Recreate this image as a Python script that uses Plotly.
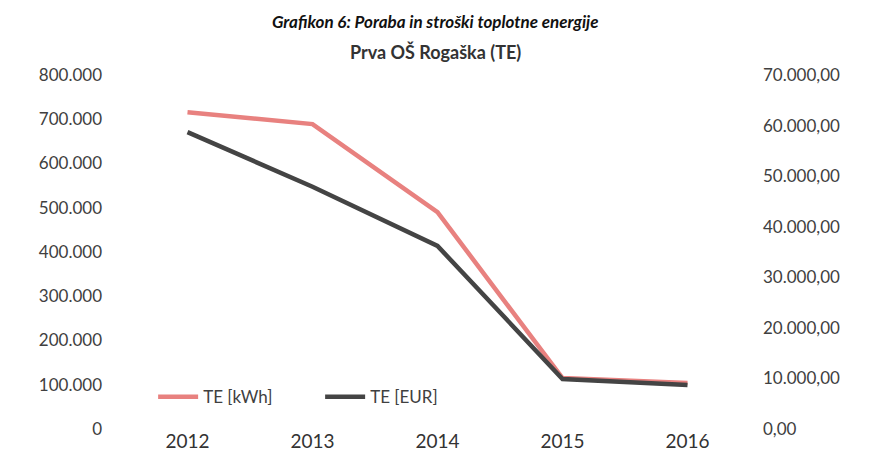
import plotly.graph_objects as go

years = ["2012", "2013", "2014", "2015", "2016"]
te_kwh = [716000, 689000, 490000, 115000, 104000]
te_eur = [58700, 47900, 36200, 9900, 8700]

FONT = "Lato"
fig = go.Figure()
fig.add_trace(go.Scatter(x=years, y=te_kwh, name="TE [kWh]", mode="lines",
                         line=dict(color="#E8817F", width=4.5)))
fig.add_trace(go.Scatter(x=years, y=te_eur, name="TE [EUR]", mode="lines",
                         line=dict(color="#444444", width=4.5), yaxis="y2"))

# page has an 8px body margin, so the figure is sized/margined to compensate
fig.update_layout(
    width=861, height=458,
    margin=dict(l=117, r=119, t=67, b=37, autoexpand=False),
    paper_bgcolor="white", plot_bgcolor="white",
    separators=",.",
    font=dict(family=FONT, color="#404040"),
    showlegend=True,
    legend=dict(orientation="h", x=0.045, y=0.09, xanchor="left", yanchor="middle",
                font=dict(size=17, color="#404040"), bgcolor="rgba(0,0,0,0)",
                itemwidth=40, entrywidth=112, entrywidthmode="pixels"),
    xaxis=dict(type="category", range=[-0.5, 4.5], showgrid=False, showline=False,
               ticks="", ticklen=0, tickfont=dict(size=19, color="#333333"),
               anchor="free", position=0.002),
    yaxis=dict(range=[0, 800000], dtick=100000, tickformat=",.0f", showgrid=False,
               zeroline=False, showline=False, ticks="", tickfont=dict(size=17),
               ticklabelstandoff=22),
    yaxis2=dict(range=[0, 70000], dtick=10000, tickformat=",.2f", overlaying="y",
                side="right", showgrid=False, zeroline=False, showline=False,
                ticks="", tickfont=dict(size=17), ticklabelstandoff=12),
    annotations=[
        dict(text="<b>Prva OŠ Rogaška (TE)</b>", xref="paper", yref="paper",
             x=0.497, y=1 + (75 - 52) / 354, xanchor="center", yanchor="middle",
             showarrow=False, font=dict(size=18, color="#333333", family=FONT)),
        dict(text="<b><i>Grafikon 6: Poraba in stroški toplotne energije</i></b>",
             xref="paper", yref="paper", x=0.497, y=1 + 66 / 354,
             xanchor="center", yanchor="top", showarrow=False,
             font=dict(size=17, color="#111111", family=FONT)),
    ],
)

fig.write_html("out.html")
